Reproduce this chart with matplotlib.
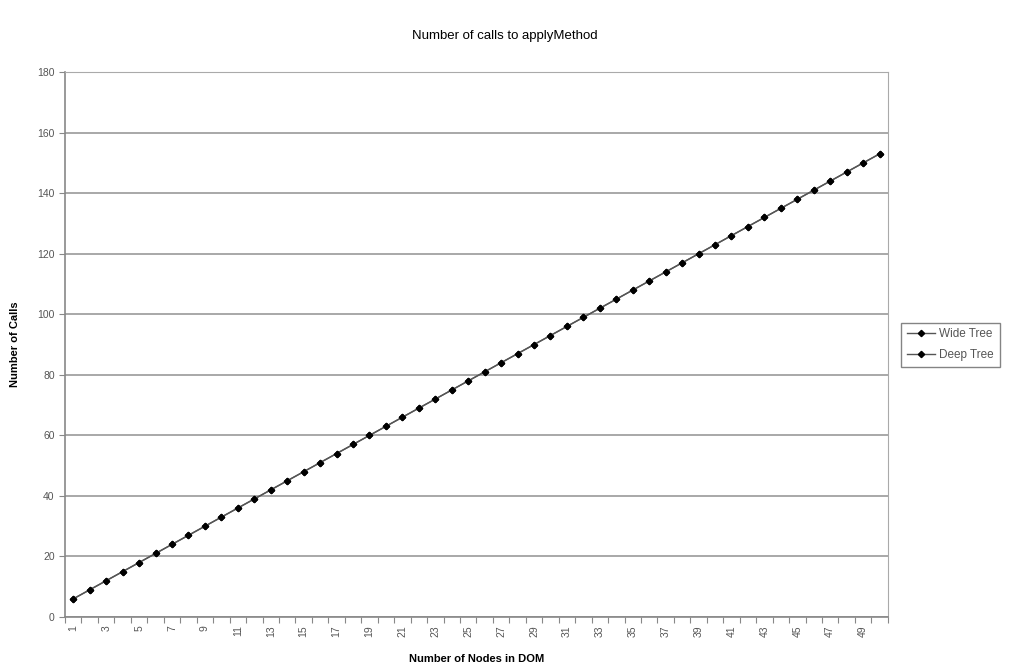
import numpy as np
import matplotlib.pyplot as plt

plt.rcParams['font.family'] = ['Liberation Sans', 'DejaVu Sans']

nodes = list(range(1, 51))
wide_tree = [6, 9, 12, 15, 18, 21, 24, 27, 30, 33, 36, 39, 42, 45, 48, 51, 54, 57, 60, 63,
             66, 69, 72, 75, 78, 81, 84, 87, 90, 93, 96, 99, 102, 105, 108, 111, 114, 117, 120, 123,
             126, 129, 132, 135, 138, 141, 144, 147, 150, 153]
deep_tree = [6, 9, 12, 15, 18, 21, 24, 27, 30, 33, 36, 39, 42, 45, 48, 51, 54, 57, 60, 63,
             66, 69, 72, 75, 78, 81, 84, 87, 90, 93, 96, 99, 102, 105, 108, 111, 114, 117, 120, 123,
             126, 129, 132, 135, 138, 141, 144, 147, 150, 153]

fig = plt.figure(figsize=(10.1, 6.68), dpi=100)
ax = fig.add_axes([0.0644, 0.0763, 0.8146, 0.8157])

pos = np.arange(len(nodes))
ax.plot(pos, wide_tree, color='#555555', lw=1.0, marker='D', ms=3.2,
        mfc='black', mec='black', label='Wide Tree')
ax.plot(pos, deep_tree, color='#555555', lw=1.0, marker='D', ms=3.2,
        mfc='black', mec='black', label='Deep Tree')

ax.set_xlim(-0.5, len(nodes) - 0.5)
ax.set_ylim(0, 180)
ax.set_yticks(range(0, 181, 20))
ax.grid(axis='y', color='#999999', lw=1.2)
ax.set_axisbelow(True)

# category boundaries as ticks, labels on every other category
ax.set_xticks(np.arange(-0.5, len(nodes), 1.0))
ax.set_xticklabels([])
ax.set_xticks(pos[::2], minor=True)
ax.set_xticklabels([str(n) for n in nodes[::2]], minor=True, rotation=90,
                   fontsize=7.5, color='#555555')
ax.tick_params(axis='x', which='minor', length=0, pad=6)
ax.tick_params(axis='x', which='major', length=4, color='#888888', direction='out')
ax.tick_params(axis='y', length=4, color='#888888', labelsize=7.5, labelcolor='#555555')

for s in ax.spines.values():
    s.set_color('#aaaaaa')
ax.spines['left'].set_color('#888888')
ax.spines['bottom'].set_color('#888888')
ax.spines['left'].set_linewidth(1.2)
ax.spines['bottom'].set_linewidth(1.2)

ax.set_xlabel('Number of Nodes in DOM', fontsize=8, fontweight='bold', labelpad=12)
ax.set_ylabel('Number of Calls', fontsize=8, fontweight='bold', labelpad=12)
fig.suptitle('Number of calls to applyMethod', x=0.5, y=0.955, fontsize=9.5, fontweight='medium')

leg = ax.legend(loc='center left', bbox_to_anchor=(1.012, 0.5), fontsize=8.5,
                frameon=True, fancybox=False, edgecolor='#666666', handlelength=2.4,
                borderpad=0.5, labelspacing=0.7, handletextpad=0.3, borderaxespad=0.3)
leg.get_frame().set_linewidth(1.0)
for t in leg.get_texts():
    t.set_color('#555555')

fig.savefig('out.png', dpi=100)
